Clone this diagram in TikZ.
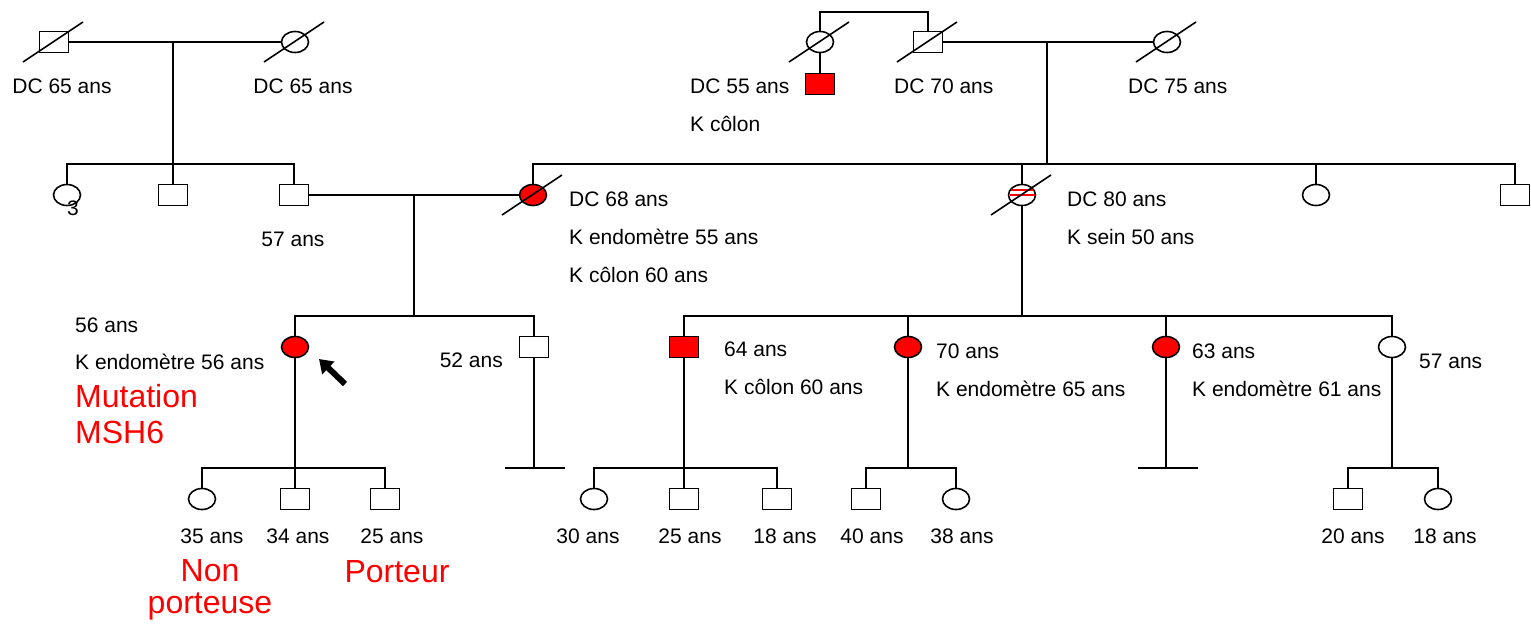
\documentclass[tikz,border=0pt]{standalone}
\usepackage{fontspec}
\setmainfont{Liberation Sans}
\usetikzlibrary{shapes.geometric,arrows.meta}
\newcommand\dslash[1]{\draw[ln] ([shift={(-31,20)}]#1.center) -- ([shift={(29,-20)}]#1.center);}
\begin{document}
\begin{tikzpicture}[x=1pt,y=-1pt,
  male/.style={draw,rectangle,minimum width=29pt,minimum height=21pt,inner sep=0pt,line width=1.6pt,fill=white},
  female/.style={draw,ellipse,minimum width=27pt,minimum height=21pt,inner sep=0pt,line width=1.6pt,fill=white},
  aff/.style={fill=red},
  ln/.style={line width=1.6pt},
  lbl/.style={inner sep=0pt,font=\fontsize{21}{25}\selectfont},
  rlbl/.style={inner sep=0pt,text=red,font=\fontsize{32}{36}\selectfont},
]
\useasboundingbox (0,0) rectangle (1531,624);

% ---------- junction coordinates ----------
\coordinate (j1) at (173,42);
\coordinate (s1) at (173,164);
\coordinate (top) at (874,12);
\coordinate (j2) at (1047,42);
\coordinate (s2) at (1047,164);
\coordinate (j3) at (414,195);
\coordinate (s3) at (414,316);
\coordinate (s4) at (1022,316);
\coordinate (bar1l) at (505,468);
\coordinate (bar1r) at (565,468);
\coordinate (bar1) at (534,468);
\coordinate (bar2l) at (1138,468);
\coordinate (bar2r) at (1198,468);
\coordinate (bar2) at (1166,468);
\coordinate (k1) at (295,468);
\coordinate (k3) at (684,468);
\coordinate (k4) at (908,468);
\coordinate (k6) at (1392,468);
\coordinate (arrtail) at (345,384);
\coordinate (arrtip) at (319,359);

% ---------- generation I ----------
\node[male] (m1) at (54,42) {};
\node[female] (f1) at (295,42) {};
\node[female] (f2) at (820,42) {};
\node[male] (m2) at (928,42) {};
\node[male,aff] (rs) at (820,84) {};
\node[female] (f3) at (1167,42) {};

% ---------- generation II ----------
\node[female] (c1) at (67,195) {};
\node[male] (c2) at (173,195) {};
\node[male] (c3) at (294,195) {};
\node[female,aff] (d1) at (533,195) {};
\node[female] (d2) at (1022,195) {};
\node[female] (d3) at (1316,195) {};
\node[male] (d4) at (1515,195) {};

% ---------- generation III ----------
\node[female,aff] (e1) at (295,347) {};
\node[male] (e2) at (534,347) {};
\node[male,aff] (e3) at (684,347) {};
\node[female,aff] (e4) at (908,347) {};
\node[female,aff] (e5) at (1166,347) {};
\node[female] (e6) at (1392,347) {};

% ---------- generation IV ----------
\node[female] (g1) at (202,499) {};
\node[male] (g2) at (295,499) {};
\node[male] (g3) at (385,499) {};
\node[female] (g4) at (594,499) {};
\node[male] (g5) at (684,499) {};
\node[male] (g6) at (777,499) {};
\node[male] (g7) at (866,499) {};
\node[female] (g8) at (956,499) {};
\node[male] (g9) at (1348,499) {};
\node[female] (g10) at (1438,499) {};

% ---------- connectors ----------
\draw[ln] (m1.east) -- (f1.west);
\draw[ln] (j1) -- (c2.north);
\draw[ln] (c1.north) |- (s1) -| (c3.north);

\draw[ln] (f2.north) |- (top) -| (m2.north);
\draw[ln] (f2.south) -- (rs.north);
\draw[ln] (m2.east) -- (f3.west);
\draw[ln] (j2) -- (s2);
\draw[ln] (d1.north) |- (s2) -| (d4.north);
\draw[ln] (d2.north) -- (d2.north |- s2);
\draw[ln] (d3.north) -- (d3.north |- s2);

\draw[ln] (c3.east) -- (d1.west);
\draw[ln] (j3) -- (s3);
\draw[ln] (e1.north) |- (s3) -| (e2.north);

\draw[ln] (d2.south) -- (s4);
\draw[ln] (e3.north) |- (s4) -| (e6.north);
\draw[ln] (e4.north) -- (e4.north |- s4);
\draw[ln] (e5.north) -- (e5.north |- s4);

\draw[ln] (e1.south) -- (g2.north);
\draw[ln] (g1.north) |- (k1) -| (g3.north);

\draw[ln] (e2.south) -- (bar1);
\draw[ln] (bar1l) -- (bar1r);

\draw[ln] (e3.south) -- (g5.north);
\draw[ln] (g4.north) |- (k3) -| (g6.north);

\draw[ln] (e4.south) -- (k4);
\draw[ln] (g7.north) |- (k4) -| (g8.north);

\draw[ln] (e5.south) -- (bar2);
\draw[ln] (bar2l) -- (bar2r);

\draw[ln] (e6.south) -- (k6);
\draw[ln] (g9.north) |- (k6) -| (g10.north);

% striped circle stripes
\draw[red,line width=1.8pt] ([shift={(-11,-5)}]d2.center) -- ([shift={(11,-5)}]d2.center);
\draw[red,line width=1.8pt] ([shift={(-12.5,0)}]d2.center) -- ([shift={(12.5,0)}]d2.center);

% deceased slashes
\dslash{m1}
\dslash{f1}
\dslash{f2}
\dslash{m2}
\dslash{f3}
\dslash{d1}
\dslash{d2}

% proband arrow
\draw[line width=6pt,-{Triangle[length=13pt,width=17pt]}] (arrtail) -- (arrtip);

% ---------- labels ----------
\node[lbl,anchor=base] (t1) at (62,93) {DC 65 ans};
\node[lbl,anchor=base] (t2) at (303,93) {DC 65 ans};
\node[lbl,anchor=base west] (t3) at (690,93) {DC 55 ans};
\node[lbl,anchor=base west] (t4) at (690,131) {K côlon};
\node[lbl,anchor=base west] (t5) at (894,93) {DC 70 ans};
\node[lbl,anchor=base west] (t6) at (1128,93) {DC 75 ans};
\node[lbl,anchor=base] (t7) at (73,215) {3};
\node[lbl,anchor=base] (t8) at (293,246) {57 ans};
\node[lbl,anchor=base west] (t9) at (569,206) {DC 68 ans};
\node[lbl,anchor=base west] (t10) at (569,244) {K endomètre 55 ans};
\node[lbl,anchor=base west] (t11) at (569,282) {K côlon 60 ans};
\node[lbl,anchor=base west] (t12) at (1067,206) {DC 80 ans};
\node[lbl,anchor=base west] (t13) at (1067,244) {K sein 50 ans};
\node[lbl,anchor=base west] (t14) at (75,332) {56 ans};
\node[lbl,anchor=base west] (t15) at (75,369) {K endomètre 56 ans};
\node[rlbl,anchor=base west] (t16) at (75,407) {Mutation};
\node[rlbl,anchor=base west] (t17) at (75,443) {MSH6};
\node[lbl,anchor=base east] (t18) at (503,367) {52 ans};
\node[lbl,anchor=base west] (t19) at (724,356) {64 ans};
\node[lbl,anchor=base west] (t20) at (724,394) {K côlon 60 ans};
\node[lbl,anchor=base west] (t21) at (936,358) {70 ans};
\node[lbl,anchor=base west] (t22) at (936,396) {K endomètre 65 ans};
\node[lbl,anchor=base west] (t23) at (1192,358) {63 ans};
\node[lbl,anchor=base west] (t24) at (1192,396) {K endomètre 61 ans};
\node[lbl,anchor=base west] (t25) at (1419,368) {57 ans};
\node[lbl,anchor=base] (t26) at (212,543) {35 ans};
\node[lbl,anchor=base] (t27) at (298,543) {34 ans};
\node[lbl,anchor=base] (t28) at (392,543) {25 ans};
\node[lbl,anchor=base] (t29) at (588,543) {30 ans};
\node[lbl,anchor=base] (t30) at (690,543) {25 ans};
\node[lbl,anchor=base] (t31) at (785,543) {18 ans};
\node[lbl,anchor=base] (t32) at (872,543) {40 ans};
\node[lbl,anchor=base] (t33) at (962,543) {38 ans};
\node[lbl,anchor=base] (t34) at (1353,543) {20 ans};
\node[lbl,anchor=base] (t35) at (1445,543) {18 ans};
\node[rlbl,anchor=base] (t36) at (210,581) {Non};
\node[rlbl,anchor=base] (t37) at (210,613) {porteuse};
\node[rlbl,anchor=base] (t38) at (397,582) {Porteur};
\end{tikzpicture}
\end{document}
